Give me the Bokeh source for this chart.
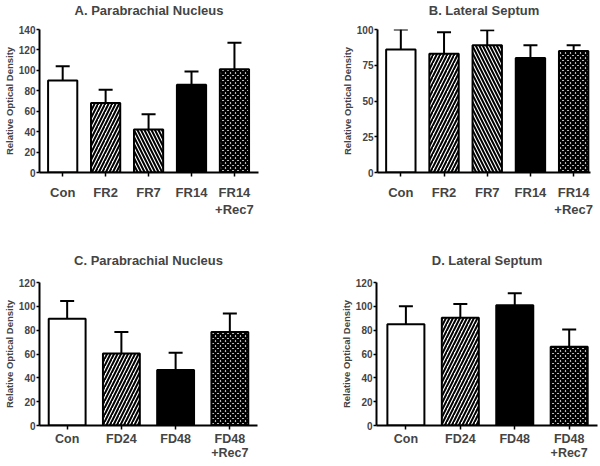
import numpy as np
from bokeh.plotting import figure
from bokeh.models import ColumnDataSource, Range1d, FixedTicker, Whisker, TeeHead, Title
from bokeh.layouts import column, row
from bokeh.embed import file_html
from bokeh.resources import INLINE

# ---------------- data ----------------
a_cats = ["Con", "FR2", "FR7", "FR14", "FR14\n+Rec7"]
a_mean = [90, 68, 42, 86, 101]
a_sem = [14, 13, 15, 13, 26]

b_cats = ["Con", "FR2", "FR7", "FR14", "FR14\n+Rec7"]
b_mean = [86, 83, 89, 80, 85]
b_sem = [14, 15, 10.5, 9, 4]

c_cats = ["Con", "FD24", "FD48", "FD48\n+Rec7"]
c_mean = [89.5, 60.5, 46.5, 78.5]
c_sem = [15, 18, 14.5, 15.5]

d_cats = ["Con", "FD24", "FD48", "FD48\n+Rec7"]
d_mean = [85, 90.5, 101, 66]
d_sem = [15, 11.5, 10, 14.5]

five_patterns = ["", "right_diagonal_line", "left_diagonal_line", "", "diagonal_cross"]
five_fills = ["white", "white", "white", "black", "white"]
four_patterns = ["", "right_diagonal_line", "", "diagonal_cross"]
four_fills = ["white", "white", "black", "white"]

FONT = "Liberation Sans"


def make_panel(title, cats, mean, sem, patterns, fills, ymax, ystep, xr,
               borders, spacer, xlab_standoff, xlab_lh, xlab_size,
               width=300, height=233):
    n = len(cats)
    xs = list(range(n))
    top = [m + s for m, s in zip(mean, sem)]
    src = ColumnDataSource(dict(x=xs, mean=mean, top=top, hatch=patterns,
                                fill=fills,
                                scale=[5 if h == "diagonal_cross" else 7 for h in patterns],
                                weight=[2.5 if h == "diagonal_cross" else 2 for h in patterns]))
    bl, br, bt, bb = borders
    p = figure(width=width, height=height, output_backend="svg",
               toolbar_location=None, x_range=Range1d(*xr),
               y_range=Range1d(0, ymax),
               min_border_left=bl, min_border_right=br,
               min_border_top=bt, min_border_bottom=bb)
    # thin spacer between frame and title, then the real title
    p.add_layout(Title(text=" ", text_font_size="1px", standoff=spacer), "above")
    p.add_layout(Title(text=title, text_font=FONT, text_font_style="bold",
                       text_font_size="13px", align="center", standoff=0), "above")
    p.outline_line_color = None
    p.xgrid.visible = False
    p.ygrid.visible = False

    w = Whisker(source=src, base="x", upper="top", lower="mean",
                line_width=2, line_color="black",
                upper_head=TeeHead(size=14, line_width=2, line_color="black"),
                lower_head=None)
    p.add_layout(w)

    p.vbar(x="x", top="mean", bottom=0, width=0.68, source=src,
           fill_color="fill", line_color="black", line_width=2,
           hatch_pattern="hatch", hatch_color="black",
           hatch_scale="scale", hatch_weight="weight")

    xa = p.xaxis[0]
    xa.ticker = FixedTicker(ticks=xs)
    xa.major_label_overrides = {i: c for i, c in zip(xs, cats)}
    xa.axis_line_width = 2
    xa.major_tick_line_width = 1.5
    xa.major_tick_out = 4
    xa.major_tick_in = 0
    xa.minor_tick_line_color = None
    xa.major_label_text_font = FONT
    xa.major_label_text_font_style = "bold"
    xa.major_label_text_font_size = xlab_size
    xa.major_label_text_line_height = xlab_lh
    xa.major_label_standoff = xlab_standoff

    ya = p.yaxis[0]
    ya.ticker = FixedTicker(ticks=list(np.arange(0, ymax + 0.1, ystep)))
    ya.axis_line_width = 2
    ya.major_tick_line_width = 1.5
    ya.major_tick_out = 3
    ya.major_tick_in = 0
    ya.minor_tick_line_color = None
    ya.major_label_text_font = FONT
    ya.major_label_text_font_style = "bold"
    ya.major_label_text_font_size = "10px"
    ya.major_label_standoff = 1
    ya.axis_label = "Relative Optical Density"
    ya.axis_label_text_font = FONT
    ya.axis_label_text_font_style = "bold"
    ya.axis_label_text_font_size = "9.5px"
    ya.axis_label_standoff = 1
    return p


pa = make_panel("A. Parabrachial Nucleus", a_cats, a_mean, a_sem,
                five_patterns, five_fills, 140, 20, (-0.54, 4.56),
                (35, 42, 28, 60), 8.4, 8, 1.15, "13px")
pb = make_panel("B. Lateral Septum", b_cats, b_mean, b_sem,
                five_patterns, five_fills, 100, 25, (-0.54, 4.39),
                (77, 10, 28, 61), 8.4, 8, 1.15, "13px")
pc = make_panel("C. Parabrachial Nucleus", c_cats, c_mean, c_sem,
                four_patterns, four_fills, 120, 20, (-0.51, 3.51),
                (36, 43, 49, 40), 11.4, 2, 1.0, "12.5px")
pd = make_panel("D. Lateral Septum", d_cats, d_mean, d_sem,
                four_patterns, four_fills, 120, 20, (-0.54, 3.52),
                (76, 3, 48, 41), 11.4, 2, 1.0, "12.5px")

layout = column(row(pa, pb), row(pc, pd))
open("out.html", "w").write(file_html(layout, INLINE))
